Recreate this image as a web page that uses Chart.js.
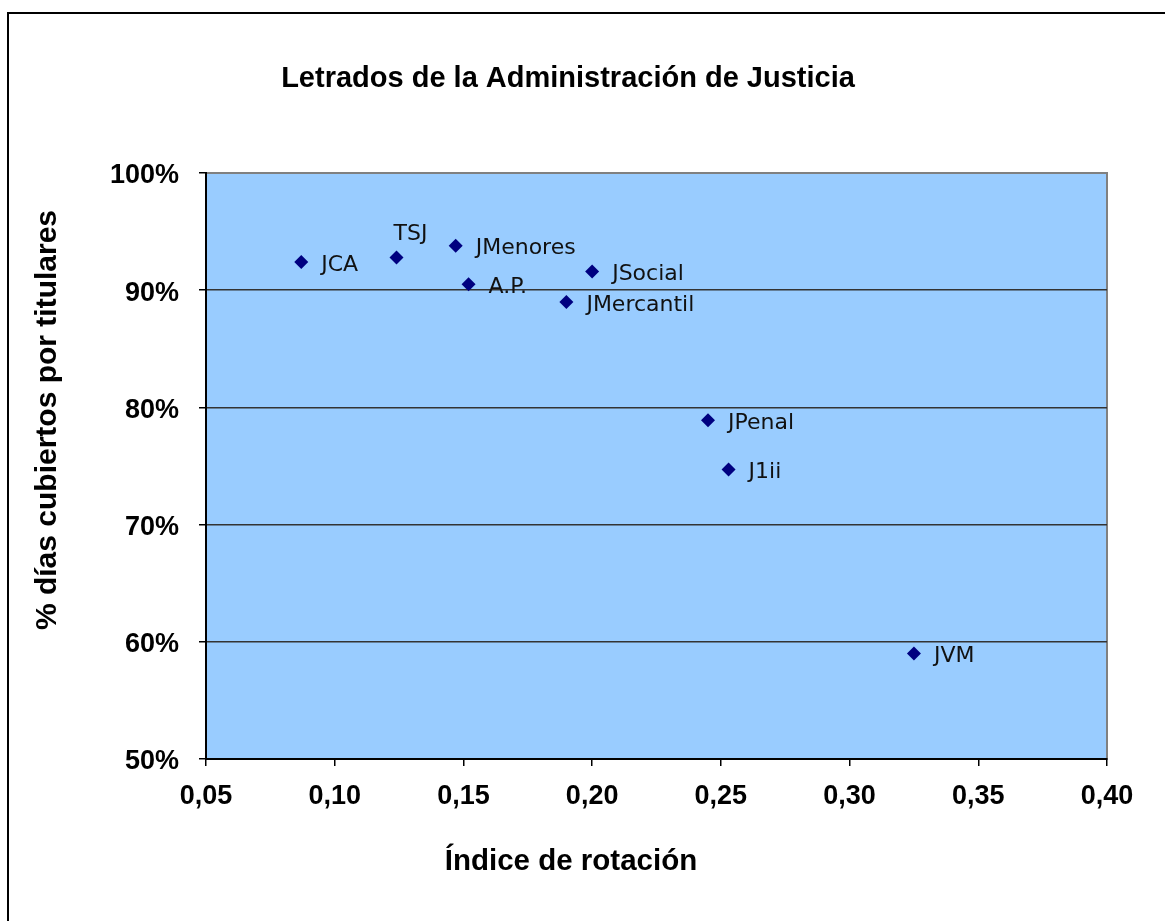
<!DOCTYPE html>
<html>
<head>
<meta charset="utf-8">
<script src="https://cdn.jsdelivr.net/npm/chart.js@4.4.1/dist/chart.umd.min.js"></script>
<style>
  html, body { margin: 0; padding: 0; background: #fff; }
  #wrap { position: relative; width: 1165px; height: 921px; overflow: hidden; }
  #frame { position: absolute; left: 7px; top: 12px; width: 1200px; height: 1000px; border-left: 2px solid #000; border-top: 2px solid #000; box-sizing: border-box; pointer-events: none; }
  canvas { position: absolute; left: 0; top: 0; }
</style>
</head>
<body>
<div id="wrap">
  <canvas id="c" width="1165" height="921"></canvas>
  <div id="frame"></div>
</div>
<script>
// ---- data ----
const categories = ["JCA", "TSJ", "JMenores", "A.P.", "JSocial", "JMercantil", "JPenal", "J1ii", "JVM"];
const rotationIndex = [0.087, 0.124, 0.147, 0.152, 0.200, 0.190, 0.245, 0.253, 0.325];
const pctCovered = [92.4, 92.8, 93.8, 90.5, 91.6, 89.0, 78.9, 74.7, 59.0];
const xTicks = [0.05, 0.10, 0.15, 0.20, 0.25, 0.30, 0.35, 0.40];
const yTicks = [50, 60, 70, 80, 90, 100];
const chartTitle = "Letrados de la Administración de Justicia";
const xTitle = "Índice de rotación";
const yTitle = "% días cubiertos por titulares";

const points = categories.map((c, i) => ({ x: rotationIndex[i], y: pctCovered[i], label: c }));

const boldFont = "'Liberation Sans', Arial, sans-serif";

const decorPlugin = {
  id: 'decor',
  beforeDraw(chart) {
    const { ctx, chartArea: a } = chart;
    ctx.save();
    ctx.fillStyle = '#99CCFF';
    ctx.fillRect(a.left, a.top, a.right - a.left, a.bottom - a.top);
    ctx.strokeStyle = '#808080';
    ctx.lineWidth = 2;
    ctx.strokeRect(a.left, a.top, a.right - a.left, a.bottom - a.top);
    ctx.restore();
  },
  afterDraw(chart) {
    const { ctx } = chart;
    ctx.save();
    ctx.fillStyle = '#000';
    ctx.textAlign = 'center';
    ctx.textBaseline = 'middle';
    ctx.font = "bold 29px " + boldFont;
    ctx.fillText(chartTitle, 568, 79);
    ctx.font = "bold 29.5px " + boldFont;
    ctx.fillText(xTitle, 571, 862);
    ctx.font = "bold 30px " + boldFont;
    ctx.translate(48, 420);
    ctx.rotate(-Math.PI / 2);
    ctx.fillText(yTitle, 0, 0);
    ctx.restore();
  }
};

const labelPlugin = {
  id: 'pointLabels',
  afterDatasetsDraw(chart) {
    const { ctx } = chart;
    const meta = chart.getDatasetMeta(0);
    ctx.save();
    ctx.font = "22px 'DejaVu Sans', Verdana, sans-serif";
    ctx.fillStyle = '#111';
    ctx.textBaseline = 'middle';
    ctx.textAlign = 'left';
    meta.data.forEach((el, i) => {
      const name = chart.data.datasets[0].data[i].label;
      if (name === 'TSJ') {
        ctx.fillText(name, el.x - 3, el.y - 23);
      } else {
        ctx.fillText(name, el.x + 20, el.y + 3);
      }
    });
    ctx.restore();
  }
};

new Chart(document.getElementById('c'), {
  type: 'scatter',
  data: {
    datasets: [{
      data: points,
      pointStyle: 'rectRot',
      pointRadius: 7,
      pointHoverRadius: 7,
      backgroundColor: '#000080',
      borderColor: '#000080',
      borderWidth: 0
    }]
  },
  options: {
    responsive: false,
    devicePixelRatio: 1,
    animation: false,
    events: [],
    layout: { padding: { left: 0, top: 173, right: 58, bottom: 0 } },
    plugins: {
      legend: { display: false },
      tooltip: { enabled: false },
      title: { display: false }
    },
    scales: {
      x: {
        type: 'linear',
        min: xTicks[0],
        max: xTicks[xTicks.length - 1],
        afterBuildTicks(scale) { scale.ticks = xTicks.map(v => ({ value: v })); },
        afterFit(scale) { scale.height = 162; },
        ticks: {
          padding: 14,
          color: '#000',
          font: { family: boldFont, size: 27, weight: 'bold' },
          callback: v => Number(v).toFixed(2).replace('.', ',')
        },
        grid: { drawOnChartArea: false, tickLength: 7, color: '#000', lineWidth: 1.5 },
        border: { color: '#000', width: 2 }
      },
      y: {
        type: 'linear',
        min: yTicks[0],
        max: yTicks[yTicks.length - 1],
        afterBuildTicks(scale) { scale.ticks = yTicks.map(v => ({ value: v })); },
        afterFit(scale) { scale.width = 206; },
        ticks: {
          padding: 20,
          labelOffset: 3,
          color: '#000',
          font: { family: boldFont, size: 27, weight: 'bold' },
          callback: v => v + '%'
        },
        grid: {
          tickLength: 7,
          lineWidth: 1.5,
          color: ctx => (ctx.tick && (ctx.tick.value === 100 || ctx.tick.value === 50)) ? '#808080' : '#333',
          tickColor: '#000'
        },
        border: { color: '#000', width: 2 }
      }
    }
  },
  plugins: [decorPlugin, labelPlugin]
});
</script>
</body>
</html>
